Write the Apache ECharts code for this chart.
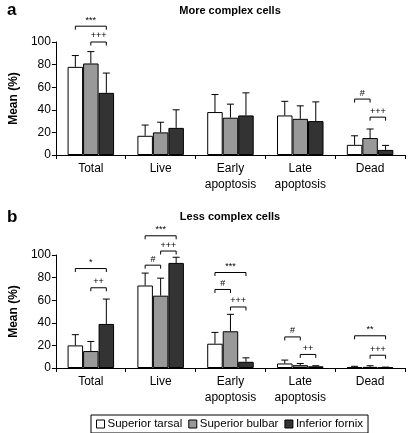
<!DOCTYPE html>
<html><head><meta charset="utf-8">
<script src="https://cdn.jsdelivr.net/npm/echarts@6/dist/echarts.min.js"></script>
<style>html,body{margin:0;padding:0;background:#fff}#c{width:409px;height:433px}</style>
</head><body><div id="c"></div>
<script>
var categories = ['Total', 'Live', 'Early\napoptosis', 'Late\napoptosis', 'Dead'];
var seriesNames = ['Superior tarsal', 'Superior bulbar', 'Inferior fornix'];
var yTicks = [0, 20, 40, 60, 80, 100];

// Panel a: More complex cells (means and mean+SD)
var aTarsal = [78, 17, 38, 35, 9];
var aBulbar = [81, 20, 33, 32, 15];
var aFornix = [55, 24, 35, 30, 4.5];
var aTarsalUp = [88, 26.5, 53.5, 47.5, 17];
var aBulbarUp = [91.5, 29, 45, 43.5, 23];
var aFornixUp = [72.5, 40, 55, 47, 8.5];

// Panel b: Less complex cells
var bTarsal = [20, 73, 21.5, 4, 0.8];
var bBulbar = [15, 64, 32.5, 2.5, 1];
var bFornix = [39, 93, 5.5, 1.5, 0.5];
var bTarsalUp = [29.5, 84, 31.5, 7, 1.5];
var bBulbarUp = [23.5, 79.5, 47.5, 4, 2];
var bFornixUp = [61, 98, 9, 2, 0.8];

// Significance brackets: [category, fromBar, toBar, level, label]
var aBrackets = [[0, 0, 2, 114, '***'], [0, 1, 2, 100, '+++'], [4, 0, 1, 49.5, '#'], [4, 1, 2, 33.5, '+++']];
var bBrackets = [[0, 0, 2, 88, '*'], [0, 1, 2, 71, '++'],
  [1, 0, 2, 117, '***'], [1, 0, 1, 91, '#'], [1, 1, 2, 103.5, '+++'],
  [2, 0, 2, 84.5, '***'], [2, 0, 1, 69.5, '#'], [2, 1, 2, 54, '+++'],
  [3, 0, 1, 27.5, '#'], [3, 1, 2, 12, '++'],
  [4, 0, 2, 28.5, '**'], [4, 1, 2, 11.3, '+++']];

var colors = ['#ffffff', '#999999', '#333333'];
var FONT = 'Liberation Sans';
var BARW = 0.222;

function errData(means, ups) {
  var out = [];
  for (var g = 0; g < 3; g++) for (var i = 0; i < categories.length; i++) out.push([i, g, means[g][i], ups[g][i]]);
  return out;
}
function errRender(params, api) {
  var cat = api.value(0), g = api.value(1);
  var bw = api.size([1, 0])[0];
  var off = (g - 1) * bw * BARW;
  var p0 = api.coord([cat, api.value(2)]);
  var p1 = api.coord([cat, api.value(3)]);
  var x = p0[0] + off;
  var st = {stroke: '#000', lineWidth: 1};
  return {type: 'group', children: [
    {type: 'line', shape: {x1: x, y1: p0[1], x2: x, y2: p1[1]}, style: st},
    {type: 'line', shape: {x1: x - 3.5, y1: p1[1], x2: x + 3.5, y2: p1[1]}, style: st}
  ]};
}
function brRender(params, api) {
  var cat = api.value(0), g1 = api.value(1), g2 = api.value(2);
  var bw = api.size([1, 0])[0];
  var p = api.coord([cat, api.value(3)]);
  var x1 = p[0] + (g1 - 1) * bw * BARW, x2 = p[0] + (g2 - 1) * bw * BARW, y = p[1];
  return {type: 'group', children: [
    {type: 'polyline', shape: {points: [[x1, y + 3.5], [x1, y], [x2, y], [x2, y + 3.5]]}, style: {stroke: '#000', lineWidth: 1, fill: null}},
    {type: 'text', x: (x1 + x2) / 2, y: y - 1.5, style: {text: api.value(4), fontSize: 9, fontFamily: FONT, fill: '#000', align: 'center', verticalAlign: 'bottom'}}
  ]};
}

var grids = [{left: 45, top: 42, width: 360, height: 113}, {left: 45, top: 255, width: 360, height: 113}];
function xAx(i) {
  return {type: 'category', gridIndex: i, data: categories,
    axisLine: {lineStyle: {color: '#000', width: 1}},
    axisTick: {show: true, length: 4, lineStyle: {color: '#000'}},
    axisLabel: {interval: 0, color: '#000', fontSize: 12, fontFamily: FONT, lineHeight: 16, margin: 6}};
}
function yAx(i) {
  return {type: 'value', gridIndex: i, min: 0, max: 100, interval: 20,
    name: 'Mean (%)', nameLocation: 'middle', nameGap: 22,
    nameTextStyle: {color: '#000', fontSize: 12, fontWeight: 'bold', fontFamily: FONT},
    axisLine: {show: true, lineStyle: {color: '#000', width: 1}},
    axisTick: {show: true, length: 4, lineStyle: {color: '#000'}},
    axisLabel: {color: '#000', fontSize: 12, fontFamily: FONT, margin: 5, customValues: yTicks},
    splitLine: {show: false}};
}
function bars(i, vals) {
  return vals.map(function (v, g) {
    return {type: 'bar', name: seriesNames[g], xAxisIndex: i, yAxisIndex: i, data: v,
      barWidth: (BARW * 100) + '%', barGap: '0%',
      itemStyle: {color: colors[g], borderColor: '#000', borderWidth: 1}, silent: true, animation: false};
  });
}

var series = [].concat(
  bars(0, [aTarsal, aBulbar, aFornix]),
  bars(1, [bTarsal, bBulbar, bFornix]),
  [{type: 'custom', xAxisIndex: 0, yAxisIndex: 0, renderItem: errRender, data: errData([aTarsal, aBulbar, aFornix], [aTarsalUp, aBulbarUp, aFornixUp]), z: 5, silent: true, animation: false},
   {type: 'custom', xAxisIndex: 1, yAxisIndex: 1, renderItem: errRender, data: errData([bTarsal, bBulbar, bFornix], [bTarsalUp, bBulbarUp, bFornixUp]), z: 5, silent: true, animation: false},
   {type: 'custom', xAxisIndex: 0, yAxisIndex: 0, renderItem: brRender, data: aBrackets, dimensions: ['c', 'a', 'b', 'y', {name: 'l', type: 'ordinal'}], z: 5, silent: true, animation: false, clip: false},
   {type: 'custom', xAxisIndex: 1, yAxisIndex: 1, renderItem: brRender, data: bBrackets, dimensions: ['c', 'a', 'b', 'y', {name: 'l', type: 'ordinal'}], z: 5, silent: true, animation: false, clip: false}]
);

var chart = echarts.init(document.getElementById('c'), null, {renderer: 'canvas'});
chart.setOption({
  backgroundColor: '#fff',
  animation: false,
  title: [
    {text: 'a', left: 2, top: -3, textStyle: {fontSize: 17, fontWeight: 'bold', fontFamily: FONT, color: '#000'}},
    {text: 'More complex cells', left: 225, textAlign: 'center', top: 0, textStyle: {fontSize: 11, fontWeight: 'bold', fontFamily: FONT, color: '#000'}},
    {text: 'b', left: 2, top: 204, textStyle: {fontSize: 17, fontWeight: 'bold', fontFamily: FONT, color: '#000'}},
    {text: 'Less complex cells', left: 225, textAlign: 'center', top: 206, textStyle: {fontSize: 11, fontWeight: 'bold', fontFamily: FONT, color: '#000'}}
  ],
  legend: {data: seriesNames, left: 91, top: 415, orient: 'horizontal',
    padding: [3, 5, 3, 5], borderColor: '#000', borderWidth: 1, itemGap: 6,
    icon: 'rect', itemWidth: 8, itemHeight: 8,
    itemStyle: {borderColor: '#000', borderWidth: 1},
    textStyle: {fontSize: 11.5, fontFamily: FONT, color: '#000', padding: [0, 0, 0, -2]}},
  grid: grids,
  xAxis: [xAx(0), xAx(1)],
  yAxis: [yAx(0), yAx(1)],
  series: series
});
</script></body></html>
